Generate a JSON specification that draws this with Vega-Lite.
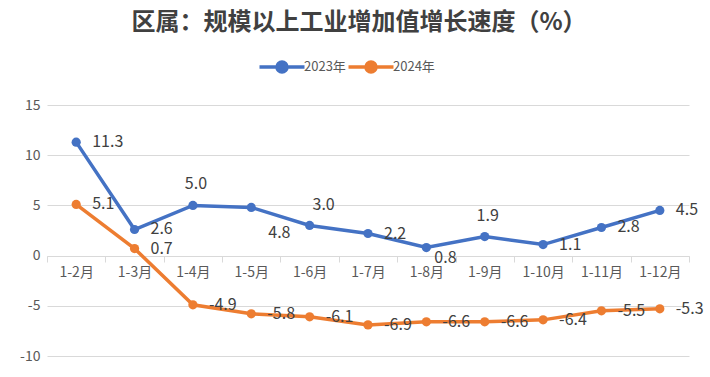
{
  "$schema": "https://vega.github.io/schema/vega-lite/v6.json",
  "width": 642,
  "height": 251,
  "autosize": {"type": "none"},
  "padding": {"left": 47, "top": 105, "right": 21, "bottom": 21},
  "background": "white",
  "config": {
    "view": {"stroke": null},
    "font": "Noto Sans CJK SC",
    "locale": {"number": {"decimal": ".", "thousands": ",", "grouping": [3], "currency": ["", ""], "minus": "-"}}
  },
  "title": {
    "text": "区属：规模以上工业增加值增长速度（%）",
    "fontSize": 24,
    "fontWeight": "bold",
    "font": "Noto Sans CJK SC",
    "color": "#404040",
    "anchor": "middle",
    "dx": -9,
    "offset": 25
  },
  "data": {
    "values": [
      {"month": "1-2月", "year": "2023年", "value": 11.3},
      {"month": "1-3月", "year": "2023年", "value": 2.6},
      {"month": "1-4月", "year": "2023年", "value": 5.0},
      {"month": "1-5月", "year": "2023年", "value": 4.8},
      {"month": "1-6月", "year": "2023年", "value": 3.0},
      {"month": "1-7月", "year": "2023年", "value": 2.2},
      {"month": "1-8月", "year": "2023年", "value": 0.8},
      {"month": "1-9月", "year": "2023年", "value": 1.9},
      {"month": "1-10月", "year": "2023年", "value": 1.1},
      {"month": "1-11月", "year": "2023年", "value": 2.8},
      {"month": "1-12月", "year": "2023年", "value": 4.5},
      {"month": "1-2月", "year": "2024年", "value": 5.1},
      {"month": "1-3月", "year": "2024年", "value": 0.7},
      {"month": "1-4月", "year": "2024年", "value": -4.9},
      {"month": "1-5月", "year": "2024年", "value": -5.8},
      {"month": "1-6月", "year": "2024年", "value": -6.1},
      {"month": "1-7月", "year": "2024年", "value": -6.9},
      {"month": "1-8月", "year": "2024年", "value": -6.6},
      {"month": "1-9月", "year": "2024年", "value": -6.6},
      {"month": "1-10月", "year": "2024年", "value": -6.4},
      {"month": "1-11月", "year": "2024年", "value": -5.5},
      {"month": "1-12月", "year": "2024年", "value": -5.3}
    ]
  },
  "encoding": {
    "x": {
      "field": "month",
      "type": "ordinal",
      "sort": ["1-2月","1-3月","1-4月","1-5月","1-6月","1-7月","1-8月","1-9月","1-10月","1-11月","1-12月"],
      "scale": {"type": "band", "paddingInner": 0, "paddingOuter": 0},
      "axis": {
        "title": null,
        "labelAngle": 0,
        "offset": -100,
        "tickBand": "extent",
        "tickSize": 6,
        "tickColor": "#D9D9D9",
        "domainColor": "#D9D9D9",
        "labelFontSize": 14,
        "labelColor": "#595959",
        "labelPadding": 3,
        "labelFont": "Noto Sans CJK SC"
      }
    },
    "y": {
      "field": "value",
      "type": "quantitative",
      "scale": {"domain": [-10, 15], "nice": false, "zero": false},
      "axis": {
        "title": null,
        "values": [-10, -5, 0, 5, 10, 15],
        "grid": true,
        "gridColor": "#D9D9D9",
        "domain": false,
        "ticks": false,
        "labelPadding": 7,
        "labelFontSize": 14,
        "labelColor": "#595959",
        "labelFont": "Noto Sans CJK SC"
      }
    },
    "color": {
      "field": "year",
      "type": "nominal",
      "scale": {"domain": ["2023年", "2024年"], "range": ["#4472C4", "#ED7D31"]},
      "legend": {
        "title": null,
        "orient": "none",
        "direction": "horizontal",
        "legendX": 228,
        "legendY": -45,
        "symbolType": "M-4.5,0L4.5,0M-1,0A1,1,0,1,1,1,0A1,1,0,1,1,-1,0Z",
        "symbolSize": 100,
        "symbolStrokeWidth": 3.5,
        "symbolOpacity": 1,
        "labelOffset": 15,
        "columnPadding": -5,
        "labelFontSize": 13,
        "labelColor": "#595959",
        "labelFont": "Noto Sans CJK SC"
      }
    }
  },
  "layer": [
    {"mark": {"type": "line", "strokeWidth": 3.5}},
    {"mark": {"type": "point", "filled": true, "size": 85, "opacity": 1}},
    {
      "transform": [{"filter": "!(datum.year == '2023年' && indexof(['1-4月','1-5月','1-6月','1-8月','1-9月'], datum.month) >= 0)"}],
      "mark": {"type": "text", "align": "left", "baseline": "middle", "dx": 16, "fontSize": 16, "color": "#404040"},
      "encoding": {"text": {"field": "value", "type": "quantitative", "format": ".1f"}, "color": {"value": "#404040"}}
    },
    {
      "transform": [{"filter": "datum.year == '2023年' && (datum.month == '1-4月' || datum.month == '1-9月')"}],
      "mark": {"type": "text", "align": "center", "baseline": "middle", "dx": 3, "dy": -21, "fontSize": 16, "color": "#404040"},
      "encoding": {"text": {"field": "value", "type": "quantitative", "format": ".1f"}, "color": {"value": "#404040"}}
    },
    {
      "transform": [{"filter": "datum.year == '2023年' && datum.month == '1-6月'"}],
      "mark": {"type": "text", "align": "center", "baseline": "middle", "dx": 14, "dy": -20, "fontSize": 16, "color": "#404040"},
      "encoding": {"text": {"field": "value", "type": "quantitative", "format": ".1f"}, "color": {"value": "#404040"}}
    },
    {
      "transform": [{"filter": "datum.year == '2023年' && datum.month == '1-5月'"}],
      "mark": {"type": "text", "align": "left", "baseline": "middle", "dx": 17, "dy": 26, "fontSize": 16, "color": "#404040"},
      "encoding": {"text": {"field": "value", "type": "quantitative", "format": ".1f"}, "color": {"value": "#404040"}}
    },
    {
      "transform": [{"filter": "datum.year == '2023年' && datum.month == '1-8月'"}],
      "mark": {"type": "text", "align": "left", "baseline": "middle", "dx": 8, "dy": 10, "fontSize": 16, "color": "#404040"},
      "encoding": {"text": {"field": "value", "type": "quantitative", "format": ".1f"}, "color": {"value": "#404040"}}
    }
  ]
}
